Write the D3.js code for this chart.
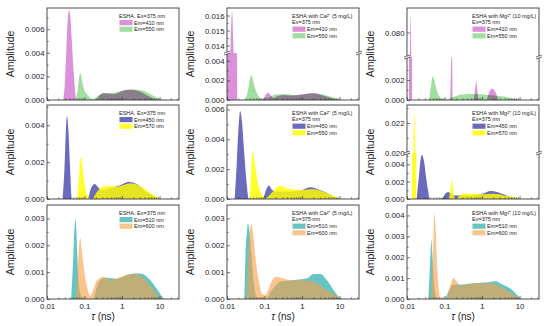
<!DOCTYPE html>
<html>
<head>
<meta charset="utf-8">
<script src="https://cdn.jsdelivr.net/npm/d3@7.9.0/dist/d3.min.js"></script>
<style>
  body { margin: 0; background: #fff; }
  svg { display: block; font-family: "Liberation Sans", Arial, sans-serif; }
</style>
</head>
<body>
<svg id="chart" width="550" height="326"></svg>
<script>
// lifetime distributions, [tau (ns), amplitude]
// row 1: Em 410 / Em 550
var esha410 = [[0.027,0],[0.030,0.0015],[0.033,0.0045],[0.036,0.0070],[0.039,0.0076],[0.042,0.0070],[0.046,0.0050],[0.051,0.0025],[0.056,0.0008],[0.060,0],
  [0.20,0],[0.25,0.0004],[0.32,0.0006],[0.45,0.00055],[0.6,0.0005],[0.9,0.0007],[1.5,0.0009],[2.5,0.0008],[4,0.0005],[6.5,0.00015],[9,0]]
var esha550 = [[0.058,0],[0.065,0.0008],[0.072,0.0019],[0.077,0.0023],[0.083,0.0019],[0.095,0.001],[0.115,0.0005],[0.14,0.0002],[0.175,0.0001],
  [0.24,0.0004],[0.33,0.00057],[0.6,0.0006],[1.1,0.0008],[2.05,0.0009],[3.1,0.00085],[5.2,0.00057],[8.6,0.0002],[14,0]]
var ca410 = [[0.009,0.007],[0.011,0.010],[0.0125,0.014],[0.0136,0.0163],[0.0148,0.014],[0.016,0.010],[0.0175,0.006],[0.0185,0.0045],[0.019,0],
  [0.09,0],[0.11,0.0006],[0.125,0.00075],[0.145,0.0005],[0.17,0.0002],[0.2,0.0003],[0.3,0.0005],[0.5,0.00045],[1,0.0006],[2,0.0007],[4,0.0004],[7,0.0001],[9,0]]
var ca550 = [[0.031,0],[0.037,0.0012],[0.041,0.0022],[0.044,0.00256],[0.048,0.0022],[0.055,0.0013],[0.065,0.0006],[0.08,0.00015],[0.095,0.00005],
  [0.12,0.0002],[0.2,0.00055],[0.4,0.0006],[0.75,0.0005],[2,0.0007],[5.7,0.00035],[9,0.0001],[10.5,0]]
var mg410 = [[0.0113,0],[0.0118,0.07],[0.0125,0.0835],[0.0132,0.07],[0.0137,0],
  [0.143,0],[0.15,0.0038],[0.155,0.0044],[0.16,0.0038],[0.167,0],
  [0.6,0],[0.66,0.0012],[0.7,0.0019],[0.74,0.0012],[0.8,0],
  [1.3,0],[1.6,0.0009],[1.85,0.00115],[2.2,0.0009],[2.7,0]]
var mg550 = [[0.039,0],[0.044,0.0015],[0.049,0.0024],[0.055,0.0018],[0.063,0.0009],[0.075,0.0003],[0.09,0.00005],
  [0.12,0.0001],[0.2,0.0004],[0.3,0.00055],[0.6,0.0006],[1.5,0.0005],[3,0.0004],[6,0.0002],[10,0]]

// row 2: Em 450 / Em 570 (550)
var esha450 = [[0.026,0],[0.029,0.0015],[0.032,0.0038],[0.034,0.0045],[0.037,0.0038],[0.041,0.0018],[0.046,0],
  [0.12,0],[0.15,0.0006],[0.19,0.00082],[0.24,0.0006],[0.3,0.0005],[0.5,0.0006],[0.9,0.00075],[1.5,0.00094],[2.5,0.0008],[4.5,0.0004],[7,0.00015],[9,0]]
var esha570 = [[0.064,0],[0.071,0.0012],[0.076,0.002],[0.08,0.0023],[0.086,0.002],[0.095,0.0012],[0.11,0.0004],[0.13,0.00005],[0.16,0],
  [0.2,0.0003],[0.26,0.00058],[0.4,0.0007],[0.74,0.00067],[1.67,0.00085],[3.1,0.0007],[7,0.0002],[11.5,0]]
var ca450 = [[0.016,0],[0.018,0.0022],[0.020,0.0045],[0.0225,0.0059],[0.025,0.0052],[0.029,0.003],[0.033,0.0012],[0.038,0],
  [0.09,0],[0.11,0.0006],[0.13,0.0009],[0.16,0.0006],[0.2,0.0005],[0.5,0.0005],[1,0.0006],[1.67,0.00078],[3,0.0006],[5.5,0.0003],[9,0]]
var ca550b = [[0.041,0],[0.045,0.0022],[0.049,0.0032],[0.054,0.0026],[0.062,0.0015],[0.075,0.0006],[0.09,0.0002],[0.105,0.00005],
  [0.14,0.0003],[0.2,0.0007],[0.26,0.00088],[0.4,0.0007],[0.9,0.0006],[2,0.00065],[4.6,0.0004],[8.5,0.0001],[10.5,0]]
var mg450 = [[0.018,0],[0.021,0.0028],[0.0235,0.0048],[0.025,0.0051],[0.028,0.0045],[0.033,0.0022],[0.037,0.0008],[0.04,0],
  [0.085,0],[0.105,0.0006],[0.125,0.0008],[0.15,0.0006],[0.2,0.0004],[0.4,0.0004],[1,0.0006],[1.7,0.00093],[2.5,0.0008],[4.5,0.0004],[8,0.0001],[9,0]]
var mg570 = [[0.0135,0],[0.0142,0.015],[0.015,0.021],[0.0157,0.0227],[0.0165,0.021],[0.0175,0.012],[0.018,0],
  [0.13,0],[0.145,0.0012],[0.158,0.0022],[0.17,0.0012],[0.185,0.0002],[0.2,0],
  [0.24,0.0003],[0.33,0.00064],[0.5,0.0006],[1,0.00055],[2,0.0006],[4,0.0004],[7,0.0002],[10,0]]

// row 3: Em 510 / Em 600
var esha510 = [[0.044,0],[0.05,0.0015],[0.054,0.0026],[0.057,0.003],[0.061,0.0025],[0.066,0.0012],[0.075,0.0003],[0.09,0],
  [0.17,0],[0.21,0.0004],[0.26,0.0007],[0.4,0.00079],[0.74,0.00075],[1.4,0.0009],[2.05,0.00095],[3.1,0.00095],[5.7,0.0007],[8.6,0.00036],[12.9,0.00003],[14,0]]
var esha600 = [[0.058,0],[0.064,0.0008],[0.07,0.0018],[0.077,0.00226],[0.085,0.0018],[0.095,0.0012],[0.117,0.00046],[0.143,0.00012],
  [0.17,0.00035],[0.194,0.00058],[0.264,0.00079],[0.325,0.00083],[0.49,0.0007],[0.74,0.00077],[1.36,0.0009],[2.05,0.00093],[3.8,0.00077],[7,0.00033],[10.5,0.00003],[11.5,0]]
var ca510 = [[0.029,0],[0.031,0.0016],[0.034,0.0025],[0.036,0.0028],[0.04,0.0025],[0.045,0.0016],[0.052,0.0006],[0.06,0.0001],[0.07,0],
  [0.11,0],[0.15,0.0003],[0.2,0.0005],[0.26,0.00064],[0.55,0.0007],[1.36,0.00077],[2.05,0.00093],[3.1,0.00093],[4.6,0.0007],[7,0.00033],[10.5,0.00003],[12,0]]
var ca600 = [[0.033,0],[0.036,0.0012],[0.04,0.0024],[0.045,0.0028],[0.05,0.0024],[0.058,0.0015],[0.07,0.0007],[0.085,0.0002],[0.105,0.00015],
  [0.13,0.0004],[0.16,0.0007],[0.2,0.00083],[0.26,0.0008],[0.49,0.0007],[1.1,0.0007],[2.05,0.00064],[4.6,0.00033],[8.6,0.0001],[10.5,0]]
var mg510 = [[0.037,0],[0.04,0.0012],[0.043,0.0024],[0.045,0.00283],[0.048,0.002],[0.052,0.0008],[0.06,0.0001],[0.065,0],
  [0.1,0],[0.13,0.0004],[0.175,0.0007],[0.3,0.0007],[0.6,0.00075],[1.4,0.0008],[2.3,0.00085],[3.5,0.0007],[5.7,0.0005],[9,0.00015],[11,0]]
var mg600 = [[0.044,0],[0.048,0.0015],[0.051,0.0032],[0.054,0.0041],[0.058,0.0034],[0.064,0.0015],[0.072,0.0003],[0.08,0],
  [0.11,0],[0.14,0.0006],[0.175,0.001],[0.2,0.0009],[0.26,0.00065],[0.4,0.0007],[0.9,0.00075],[1.7,0.00075],[3,0.0006],[5.7,0.0003],[8.6,0.0001],[10.5,0]]

var tauDomain = [0.01, 33]
var tauTicks = [0.01, 0.1, 1, 10]

var STYLE = {
    pink: { color: '#cc66cc', op: 0.72 },
    green: { color: '#66cc66', op: 0.62, blend: 'multiply' },
    blue: { color: '#3a3aa8', op: 0.75 },
    yellow: { color: '#ffff00', op: 0.82 },
    teal: { color: '#3cb4b4', op: 0.78 },
    orange: { color: '#f7a04a', op: 0.62 },
}

var colLeft = [47, 227, 407]
var plotW = 132
var rowTop = [8, 105, 205]
var rowBottom = [100, 199, 299]

var titleEsha = ['ESHA, Ex=375 nm']
var titleCa = ['ESHA with Ca²⁺ (5 mg/L)', 'Ex=375 nm']
var titleMg = ['ESHA with Mg²⁺ (10 mg/L)', 'Ex=375 nm']

var panels = [
    { row: 0, col: 0, title: titleEsha, series: [[esha410, 'pink', 'Em=410 nm'], [esha550, 'green', 'Em=550 nm']],
      domain: [0, 0.0078], ticks: [0, 0.002, 0.004, 0.006], minor: [0.001, 0.003, 0.005, 0.007] },
    { row: 0, col: 1, title: titleCa, series: [[ca410, 'pink', 'Em=410 nm'], [ca550, 'green', 'Em=550 nm']], brk: 53,
      lower: { domain: [0, 0.0048], ticks: [0, 0.002, 0.004], minor: [0.001, 0.003] },
      upper: { domain: [0.0135, 0.0165], ticks: [0.014, 0.015, 0.016], minor: [0.0145, 0.0155] } },
    { row: 0, col: 2, title: titleMg, series: [[mg410, 'pink', 'Em=410 nm'], [mg550, 'green', 'Em=550 nm']], brk: 57,
      lower: { domain: [0, 0.0043], ticks: [0, 0.002], minor: [0.001, 0.003] },
      upper: { domain: [0.075, 0.085], ticks: [0.08], minor: [] } },
    { row: 1, col: 0, title: titleEsha, series: [[esha450, 'blue', 'Em=450 nm'], [esha570, 'yellow', 'Em=570 nm']],
      domain: [0, 0.0051], ticks: [0, 0.002, 0.004], minor: [0.001, 0.003, 0.005] },
    { row: 1, col: 1, title: titleCa, series: [[ca450, 'blue', 'Em=450 nm'], [ca550b, 'yellow', 'Em=550 nm']],
      domain: [0, 0.0063], ticks: [0, 0.002, 0.004, 0.006], minor: [0.001, 0.003, 0.005] },
    { row: 1, col: 2, title: titleMg, series: [[mg450, 'blue', 'Em=450 nm'], [mg570, 'yellow', 'Em=570 nm']], brk: 153,
      lower: { domain: [0, 0.0053], ticks: [0, 0.002, 0.004], minor: [0.001, 0.003, 0.005] },
      upper: { domain: [0.020, 0.0232], ticks: [0.020, 0.022], minor: [0.021, 0.023] } },
    { row: 2, col: 0, title: titleEsha, series: [[esha510, 'teal', 'Em=510 nm'], [esha600, 'orange', 'Em=600 nm']],
      domain: [0, 0.0035], ticks: [0, 0.001, 0.002, 0.003], minor: [0.0005, 0.0015, 0.0025] },
    { row: 2, col: 1, title: titleCa, series: [[ca510, 'teal', 'Em=510 nm'], [ca600, 'orange', 'Em=600 nm']],
      domain: [0, 0.0035], ticks: [0, 0.001, 0.002, 0.003], minor: [0.0005, 0.0015, 0.0025] },
    { row: 2, col: 2, title: titleMg, series: [[mg510, 'teal', 'Em=510 nm'], [mg600, 'orange', 'Em=600 nm']],
      domain: [0, 0.0045], ticks: [0, 0.001, 0.002, 0.003, 0.004], minor: [0.0005, 0.0015, 0.0025, 0.0035] },
]

var svg = d3.select('#chart')
var defs = svg.append('defs')
var fmtY = d3.format('.3f')
var FRAME = '#3a3a3a'

var minorTau = []
tauTicks.forEach(function (d) {
    for (var m = 2; m <= 9; m++) if (d * m <= tauDomain[1]) minorTau.push(d * m)
})

panels.forEach(function (p) {
    var x0 = colLeft[p.col], x1 = x0 + plotW
    var yT = rowTop[p.row], yB = rowBottom[p.row]
    var x = d3.scaleLog().domain(tauDomain).range([x0, x1])
    var g = svg.append('g')

    var segs = p.brk
        ? [
              { y: d3.scaleLinear().domain(p.lower.domain).range([yB, p.brk]), top: p.brk, bot: yB, ax: p.lower },
              { y: d3.scaleLinear().domain(p.upper.domain).range([p.brk, yT]), top: yT, bot: p.brk, ax: p.upper },
          ]
        : [{ y: d3.scaleLinear().domain(p.domain).range([yB, yT]), top: yT, bot: yB, ax: p }]

    segs.forEach(function (s, i) {
        var id = 'clip' + p.row + p.col + i
        defs.append('clipPath').attr('id', id)
            .append('rect').attr('x', x0).attr('y', s.top).attr('width', plotW).attr('height', s.bot - s.top)
        var sg = g.append('g').attr('clip-path', 'url(#' + id + ')').style('isolation', 'isolate')
        p.series.forEach(function (ser) {
            var st = STYLE[ser[1]]
            var area = d3.area()
                .x(function (d) { return x(d[0]) })
                .y0(s.bot)
                .y1(function (d) { return s.y(d[1]) })
                .curve(d3.curveMonotoneX)
            sg.append('path').datum(ser[0]).attr('d', area)
                .attr('fill', st.color).attr('fill-opacity', st.op)
                .style('mix-blend-mode', st.blend || 'normal')
        })

        // y axis (ticks inward)
        var ya = g.append('g').attr('transform', 'translate(' + x0 + ',0)')
            .call(d3.axisLeft(s.y).tickValues(s.ax.ticks).tickSize(-3).tickPadding(2.5).tickFormat(fmtY))
        var ym = g.append('g').attr('transform', 'translate(' + x0 + ',0)')
            .call(d3.axisLeft(s.y).tickValues(s.ax.minor).tickSize(-1.6).tickFormat(''))
        ;[ya, ym].forEach(function (a) {
            a.select('.domain').remove()
            a.selectAll('line').attr('stroke', FRAME).attr('stroke-width', 0.7)
            a.selectAll('text').attr('font-size', 7.8).attr('fill', '#222').attr('font-family', null)
        })
    })

    // x axis
    var xa = g.append('g').attr('transform', 'translate(0,' + yB + ')')
        .call(d3.axisBottom(x).tickValues(tauTicks).tickSize(-3).tickPadding(4)
            .tickFormat(p.row === 2 ? function (d) { return String(d) } : ''))
    var xm = g.append('g').attr('transform', 'translate(0,' + yB + ')')
        .call(d3.axisBottom(x).tickValues(minorTau).tickSize(-1.6).tickFormat(''))
    ;[xa, xm].forEach(function (a) {
        a.select('.domain').remove()
        a.selectAll('line').attr('stroke', FRAME).attr('stroke-width', 0.7)
        a.selectAll('text').attr('font-size', 7.8).attr('fill', '#222').attr('font-family', null)
    })

    // frame
    g.append('rect').attr('x', x0).attr('y', yT).attr('width', plotW).attr('height', yB - yT)
        .attr('fill', 'none').attr('stroke', FRAME).attr('stroke-width', 0.9)

    // axis break marks
    if (p.brk) {
        ;[x0, x1].forEach(function (bx) {
            g.append('rect').attr('x', bx - 1.5).attr('y', p.brk - 1).attr('width', 3).attr('height', 2).attr('fill', '#fff')
            ;[-1, 1].forEach(function (o) {
                g.append('line').attr('x1', bx - 3).attr('x2', bx + 3)
                    .attr('y1', p.brk + o + 1).attr('y2', p.brk + o - 1)
                    .attr('stroke', FRAME).attr('stroke-width', 0.7)
            })
        })
    }

    // y label
    g.append('text').attr('transform', 'translate(' + (x0 - 33) + ',' + (yT + yB) / 2 + ') rotate(-90)')
        .attr('text-anchor', 'middle').attr('font-size', 10.5).attr('fill', '#222').text('Amplitude')

    // x label
    if (p.row === 2) {
        var xl = g.append('text').attr('x', x0 + 56).attr('y', 320).attr('text-anchor', 'middle')
            .attr('font-size', 10).attr('fill', '#222')
        xl.append('tspan').attr('font-style', 'italic').text('τ')
        xl.append('tspan').text(' (ns)')
    }

    // legend
    var lx = x0 + (p.col === 0 ? 72 : 65)
    var ly = yT + 8
    var lg = g.append('g').attr('font-size', 5.5).attr('fill', '#222')
    p.title.forEach(function (t, i) {
        lg.append('text').attr('x', lx).attr('y', ly + i * 6.4 + 2).text(t)
    })
    p.series.forEach(function (ser, i) {
        var st = STYLE[ser[1]]
        var cy = ly + (p.title.length + i) * 6.6
        lg.append('rect').attr('x', lx + 0.5).attr('y', cy - 2.6).attr('width', 13).attr('height', 5.2)
            .attr('fill', st.color).attr('fill-opacity', st.op)
        lg.append('text').attr('x', lx + 15).attr('y', cy + 2).text(ser[2])
    })
})
</script>
</body>
</html>
